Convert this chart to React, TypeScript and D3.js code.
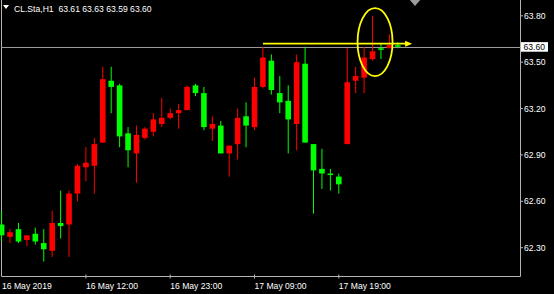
import React from "react";
import * as d3 from "d3";

// CL.Sta H1 bars (oldest first)
const opens = [62.45, 62.37, 62.42, 62.35, 62.39, 62.33, 62.28, 62.46, 62.45, 62.65, 62.82, 62.83, 62.98, 63.38, 63.35, 63.04, 62.91, 63.01, 63.05, 63.10, 63.14, 63.17, 63.19, 63.35, 63.30, 63.07, 63.09, 62.91, 62.97, 63.15, 63.08, 63.34, 63.51, 63.30, 63.25, 63.10, 63.49, 62.97, 62.81, 62.78, 62.76, 62.97, 63.38, 63.40, 63.52, 63.59, 63.59, 63.61];
const highs = [62.54, 62.42, 62.46, 62.38, 62.43, 62.42, 62.54, 62.67, 62.67, 62.84, 62.95, 63.01, 63.47, 63.47, 63.36, 63.08, 63.09, 63.08, 63.17, 63.27, 63.20, 63.23, 63.35, 63.36, 63.34, 63.15, 63.12, 62.96, 63.20, 63.24, 63.40, 63.60, 63.55, 63.41, 63.35, 63.55, 63.60, 62.97, 62.94, 62.81, 62.78, 63.59, 63.47, 63.60, 63.80, 63.62, 63.68, 63.63];
const lows = [62.34, 62.33, 62.33, 62.31, 62.32, 62.21, 62.24, 62.36, 62.24, 62.60, 62.73, 62.65, 62.98, 63.17, 62.95, 62.82, 62.72, 63.00, 63.02, 63.08, 63.13, 63.07, 63.19, 63.28, 63.06, 62.99, 62.91, 62.76, 62.87, 62.95, 63.06, 63.33, 63.29, 63.17, 62.91, 62.93, 62.98, 62.52, 62.68, 62.67, 62.65, 62.97, 63.30, 63.30, 63.51, 63.52, 63.59, 63.59];
const closes = [62.38, 62.40, 62.34, 62.38, 62.34, 62.29, 62.46, 62.44, 62.65, 62.83, 62.85, 62.97, 63.39, 63.34, 63.02, 62.93, 63.03, 63.07, 63.13, 63.14, 63.17, 63.19, 63.34, 63.30, 63.08, 63.10, 62.91, 62.96, 63.14, 63.09, 63.34, 63.53, 63.32, 63.24, 63.13, 63.50, 62.98, 62.80, 62.78, 62.77, 62.71, 63.37, 63.41, 63.53, 63.57, 63.58, 63.61, 63.60];

// price scale labels
const priceTicks = [63.8, 63.5, 63.2, 62.9, 62.6, 62.3];
// time labels, one every ten bars
const timeLabels = ["16 May 2019", "16 May 12:00", "16 May 23:00", "17 May 09:00", "17 May 19:00"];
const timeTickBars = [0, 10, 20, 30, 40];

const symbol = "CL.Sta,H1";
const lastPrice = 63.6;
// annotation: arrow from bar 31 to beyond the last bar, ellipse around bars 44-45
const arrowPrice = 63.62;
const arrowFromBar = 31;
const arrowToBar = 48.7;
const ellipseBar = 44.3;
const ellipsePrice = 63.63;

const W = 554;
const H = 294;
const plotRight = 520.5;
const plotBottom = 276.5;
const plotLeft = 1.5;

const UP = "#ff0000";
const DOWN = "#00ff00";
const FRAME = "#b4b4b4";
const YELLOW = "#ffff00";
const FONT = "'Liberation Sans', Arial, sans-serif";

export default function App() {
  const n = closes.length;
  const x = d3.scaleLinear().domain([0, n - 1]).range([1.6, 1.6 + 8.43 * (n - 1)]);
  const y = d3.scaleLinear().domain([62.3, 63.8]).range([247.7, 15.8]);
  const bodyW = 5.6;

  const hdr = `${opens[n - 1].toFixed(2)} ${highs[n - 1].toFixed(2)} ${lows[n - 1].toFixed(2)} ${closes[n - 1].toFixed(2)}`;

  const ax = x(arrowToBar);
  const ay = y(arrowPrice);

  return (
    <svg
      width={W}
      height={H}
      style={{ position: "absolute", left: 0, top: 0, background: "#000", display: "block" }}
    >
      <rect x={0} y={0} width={W} height={H} fill="#000" />

      {/* frame */}
      <line x1={plotLeft} x2={plotLeft} y1={0} y2={plotBottom} stroke={FRAME} strokeWidth={1} />
      <line x1={plotLeft} x2={plotRight} y1={plotBottom} y2={plotBottom} stroke={FRAME} strokeWidth={1} />
      <line x1={plotRight} x2={plotRight} y1={0} y2={plotBottom} stroke={FRAME} strokeWidth={1} />

      {/* last price line */}
      <line
        x1={plotLeft}
        x2={plotRight}
        y1={Math.round(y(lastPrice)) + 0.5}
        y2={Math.round(y(lastPrice)) + 0.5}
        stroke="#9a9a9a"
        strokeWidth={1}
      />

      {/* candles */}
      {closes.map((c, i) => {
        const o = opens[i];
        const up = c >= o;
        const col = up ? UP : DOWN;
        const cx = x(i);
        const top = y(Math.max(o, c));
        const bot = y(Math.min(o, c));
        return (
          <g key={i}>
            <line x1={cx} x2={cx} y1={y(highs[i])} y2={y(lows[i])} stroke={col} strokeWidth={1} />
            <rect x={cx - bodyW / 2} y={top} width={bodyW} height={Math.max(1, bot - top)} fill={col} />
          </g>
        );
      })}

      {/* price axis */}
      {priceTicks.map((p) => (
        <g key={p}>
          <line x1={plotRight} x2={plotRight + 2.5} y1={y(p)} y2={y(p)} stroke={FRAME} strokeWidth={1} />
          <text x={524} y={y(p)} dy="0.35em" fill="#ffffff" fontSize={8.6} fontFamily={FONT}>
            {p.toFixed(2)}
          </text>
        </g>
      ))}

      {/* last price tag */}
      <rect x={521} y={y(lastPrice) - 4.6} width={27} height={9.6} fill="#ffffff" />
      <text x={523.5} y={y(lastPrice) + 0.2} dy="0.35em" fill="#000000" fontSize={8.6} fontFamily={FONT}>
        {lastPrice.toFixed(2)}
      </text>

      {/* time axis */}
      {timeTickBars.map((b, i) => (
        <g key={timeLabels[i]}>
          {i > 0 && (
            <line x1={x(b)} x2={x(b)} y1={plotBottom - 2} y2={plotBottom + 2} stroke={FRAME} strokeWidth={1} />
          )}
          <text x={i === 0 ? 2 : x(b)} y={289} fill="#ffffff" fontSize={8.6} fontFamily={FONT}>
            {timeLabels[i]}
          </text>
        </g>
      ))}

      {/* header */}
      <path d="M3,5 L9,5 L6,9 Z" fill="#ffffff" />
      <text x={14} y={12} fill="#ffffff" fontSize={8.6} fontFamily={FONT} xmlSpace="preserve">
        {`${symbol}  ${hdr}`}
      </text>

      {/* chart shift marker */}
      <path d="M409,-1 L421,-1 L415,6 Z" fill="#9c9c9c" />

      {/* annotation */}
      <line x1={x(arrowFromBar)} x2={ax - 5} y1={ay} y2={ay} stroke={YELLOW} strokeWidth={1.6} />
      <path d={`M${ax},${ay} L${ax - 7},${ay - 3} L${ax - 7},${ay + 3} Z`} fill={YELLOW} />
      <ellipse cx={x(ellipseBar)} cy={y(ellipsePrice)} rx={17.5} ry={34} fill="none" stroke={YELLOW} strokeWidth={1.8} />
    </svg>
  );
}
